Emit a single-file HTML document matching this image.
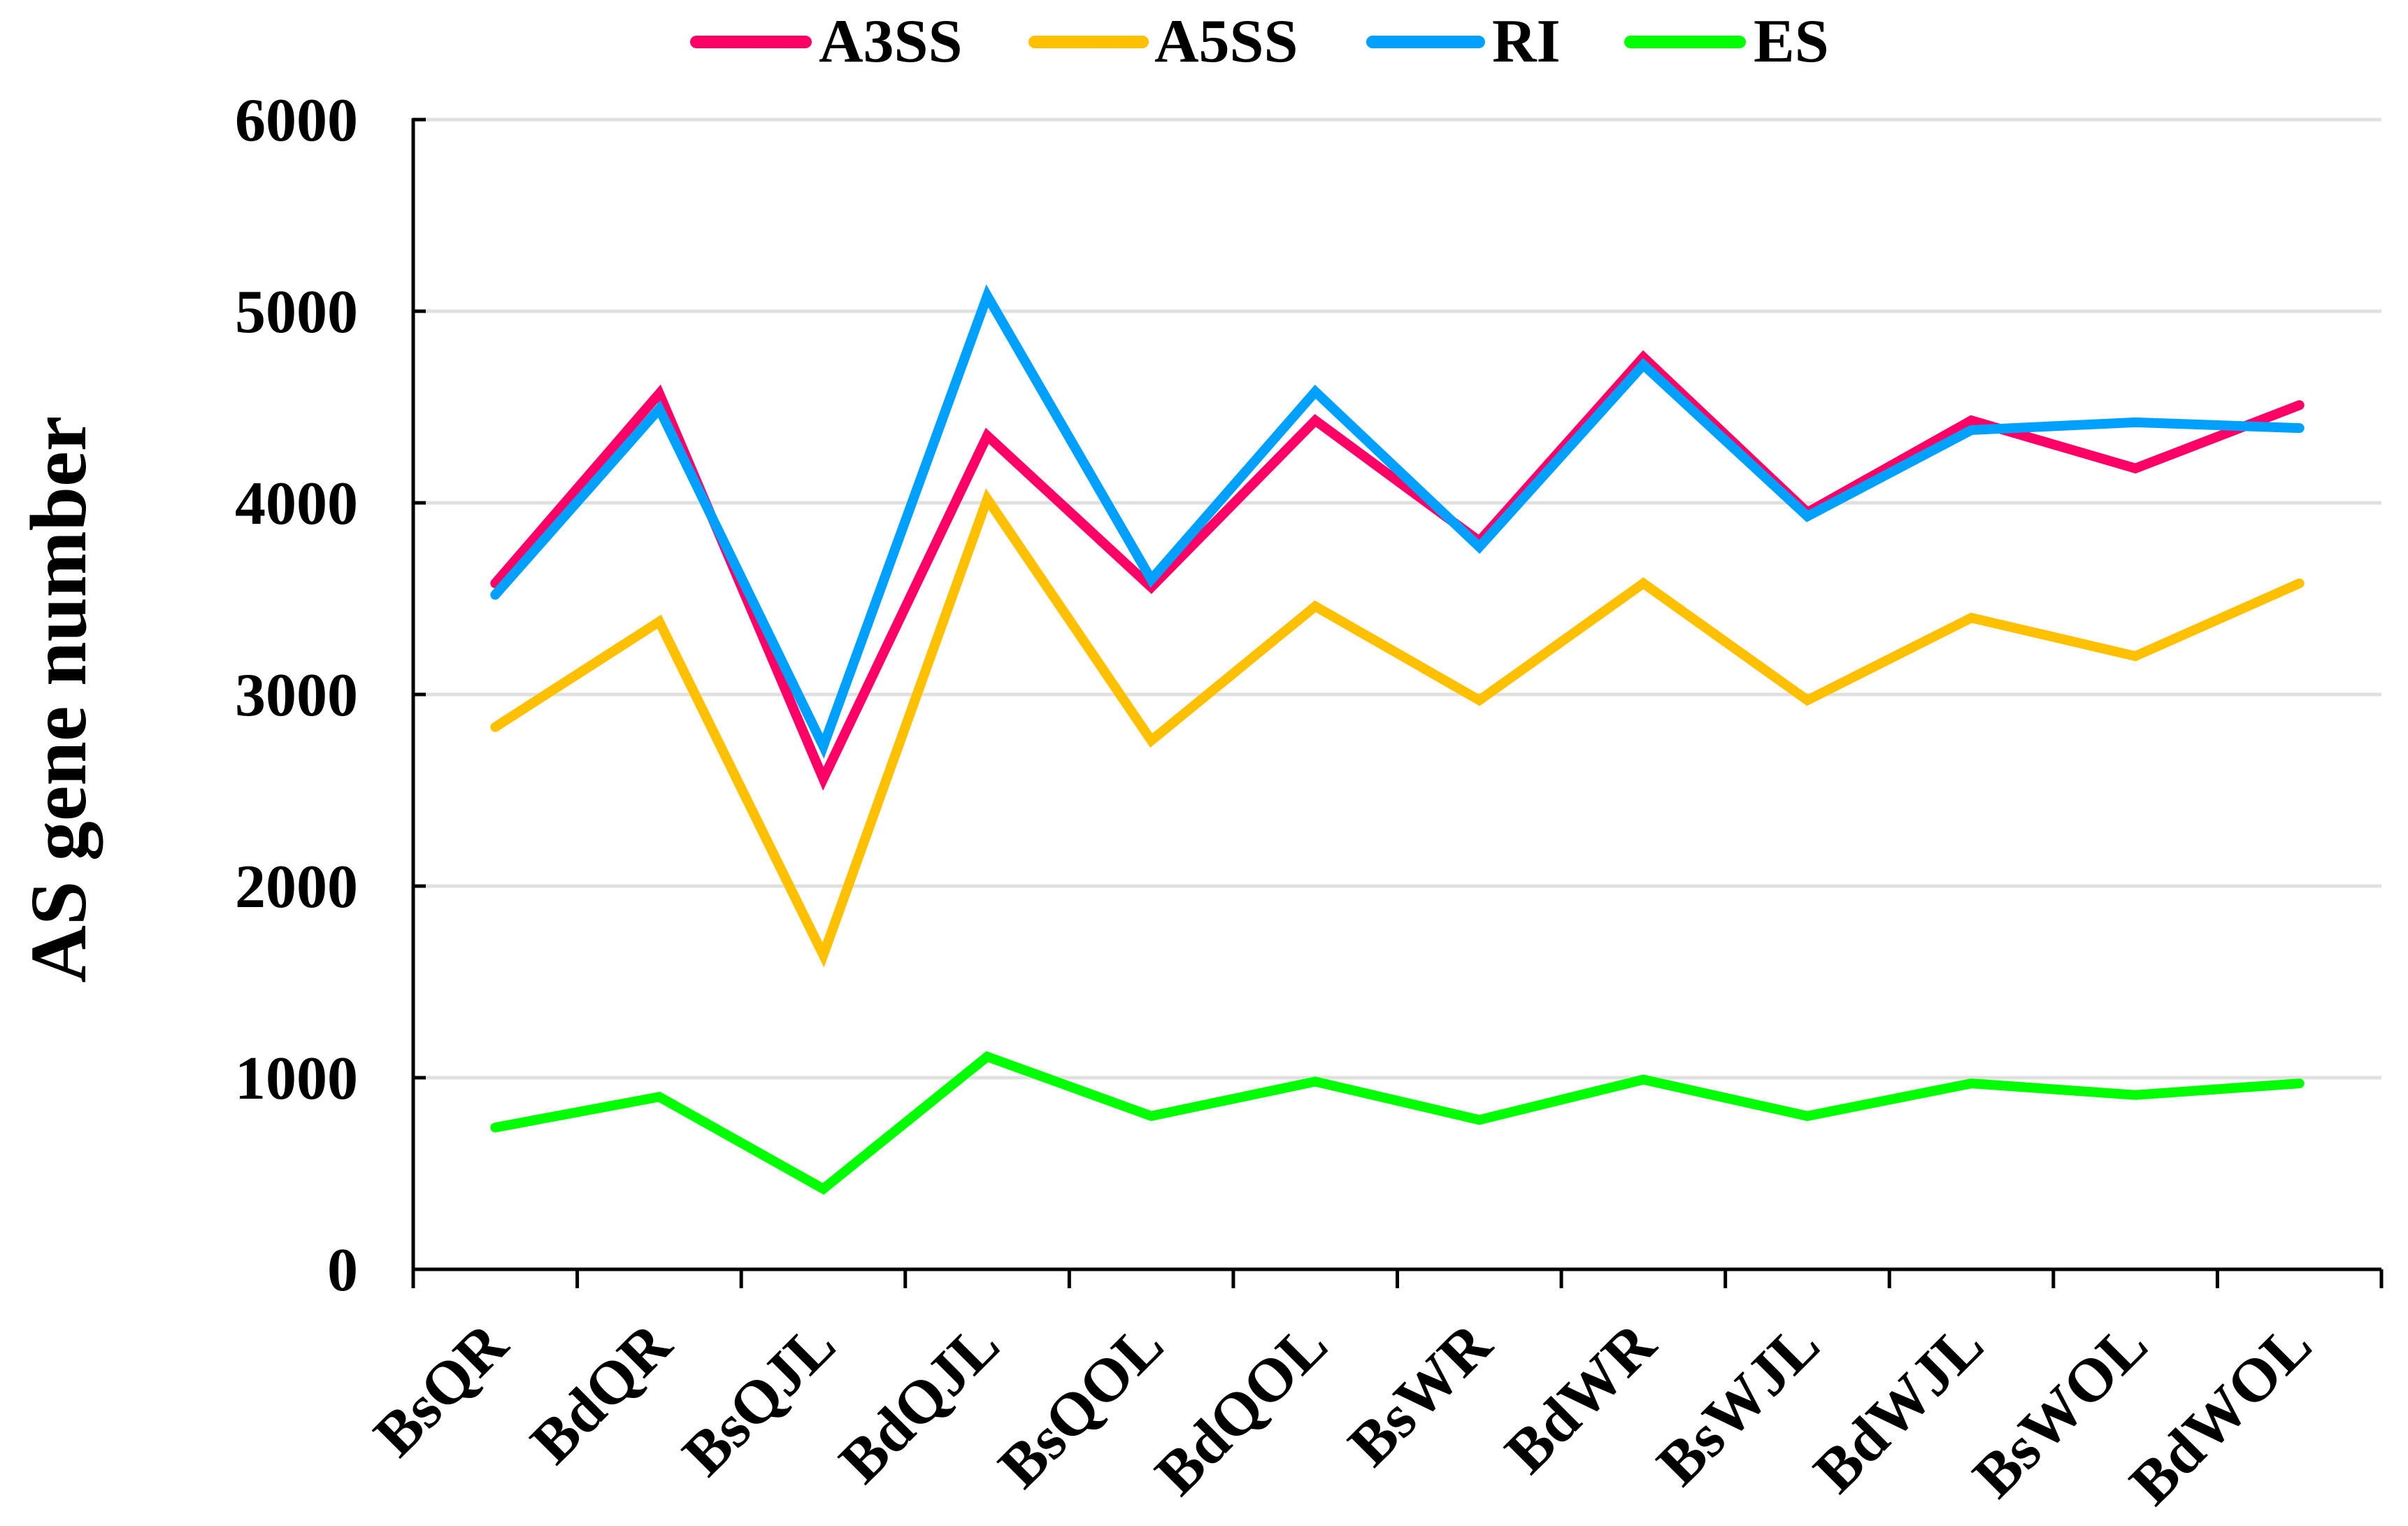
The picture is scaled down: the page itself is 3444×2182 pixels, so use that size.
<!DOCTYPE html>
<html><head><meta charset="utf-8"><style>
html,body{margin:0;padding:0;background:#fff;}
svg{display:block;}
text{font-family:"Liberation Serif",serif;font-weight:bold;fill:#000;}
</style></head><body>
<svg id="chart" width="3444" height="2182" viewBox="0 0 3444 2182" xmlns="http://www.w3.org/2000/svg">
<g id="grid"></g>
<g id="axes"></g>
<g id="series"></g>
<g id="legend"></g>
<text x="0" y="0" font-size="114" text-anchor="middle" transform="translate(122,1000) rotate(-90)">AS gene number</text>
</svg>
<script>
const categories = ["BsQR","BdQR","BsQJL","BdQJL","BsQOL","BdQOL","BsWR","BdWR","BsWJL","BdWJL","BsWOL","BdWOL"];
const a3ss = [3580,4570,2560,4350,3560,4430,3800,4760,3950,4430,4180,4510];
const a5ss = [2830,3380,1640,4020,2760,3460,2970,3580,2970,3400,3200,3580];
const ri = [3520,4490,2730,5080,3600,4580,3770,4720,3930,4380,4420,4390];
const es = [740,900,420,1110,800,980,780,990,800,970,910,970];
const yTicks = [0,1000,2000,3000,4000,5000,6000];
const seriesNames = ["A3SS","A5SS","RI","ES"];

const NS = "http://www.w3.org/2000/svg";
const X0 = 591, X1 = 3406, Y0 = 1815, Y6 = 171, YMAX = 6000;
const step = (X1 - X0) / categories.length;
function xPos(i){ return X0 + step * (i + 0.5); }
function yPos(v){ return Y0 - (v / YMAX) * (Y0 - Y6); }
function mk(tag, attrs, parent){
  const e = document.createElementNS(NS, tag);
  for (const k in attrs) e.setAttribute(k, attrs[k]);
  parent.appendChild(e);
  return e;
}
const grid = document.getElementById('grid');
const axes = document.getElementById('axes');
const series = document.getElementById('series');
const legend = document.getElementById('legend');

yTicks.forEach(t => {
  const y = yPos(t);
  if (t > 0) {
    const g = mk('line', {x1:X0, x2:X1, y1:y, y2:y, stroke:'#e0e0e0', 'stroke-width':5}, grid);
    
    
  }
  const tk = mk('line', {x1:X0-1, x2:X0+18, y1:y, y2:y, stroke:'#000', 'stroke-width':5}, axes);
  
  
  const lb = mk('text', {x:512, y:y+30, 'font-size':88, 'text-anchor':'end'}, axes);
  lb.textContent = t;
  
  
});
const ya = mk('line', {x1:X0, x2:X0, y1:Y6-2, y2:Y0+2, stroke:'#000', 'stroke-width':5}, axes);


const xa = mk('line', {x1:X0-2, x2:X1, y1:Y0, y2:Y0, stroke:'#000', 'stroke-width':5}, axes);


for (let i = 0; i <= categories.length; i++) {
  const x = X0 + step * i;
  const tk = mk('line', {x1:x, x2:x, y1:Y0, y2:Y0+27, stroke:'#000', 'stroke-width':5}, axes);
  
  
}
categories.forEach((c, i) => {
  const ax = xPos(i) + 22, ay = 1928;
  const t = mk('text', {x:ax, y:ay, 'font-size':88, 'text-anchor':'end', transform:`rotate(-45 ${ax} ${ay})`}, axes);
  t.textContent = c;
  
  
});

const colors = ["#ff0066","#ffc000","#00a0ff","#00ff00"];
const allData = [a3ss, a5ss, ri, es];
allData.forEach((arr, s) => {
  const pts = arr.map((v, i) => xPos(i).toFixed(1) + ',' + yPos(v).toFixed(1)).join(' ');
  const pl = mk('polyline', {points:pts, fill:'none', stroke:colors[s], 'stroke-width':14, 'stroke-linejoin':'miter', 'stroke-linecap':'round'}, series);
  
  
});

const legLine = [[987,1161],[1471,1643],[1954,2124],[2323,2497]];
const legText = [1171,1651,2134,2508];
seriesNames.forEach((n, s) => {
  const l = mk('line', {x1:legLine[s][0]+9, x2:legLine[s][1]-9, y1:60, y2:60, stroke:colors[s], 'stroke-width':18, 'stroke-linecap':'round'}, legend);
  
  
  const t = mk('text', {x:legText[s], y:88, 'font-size':88}, legend);
  t.textContent = n;
  
  
});
</script>
</body></html>
